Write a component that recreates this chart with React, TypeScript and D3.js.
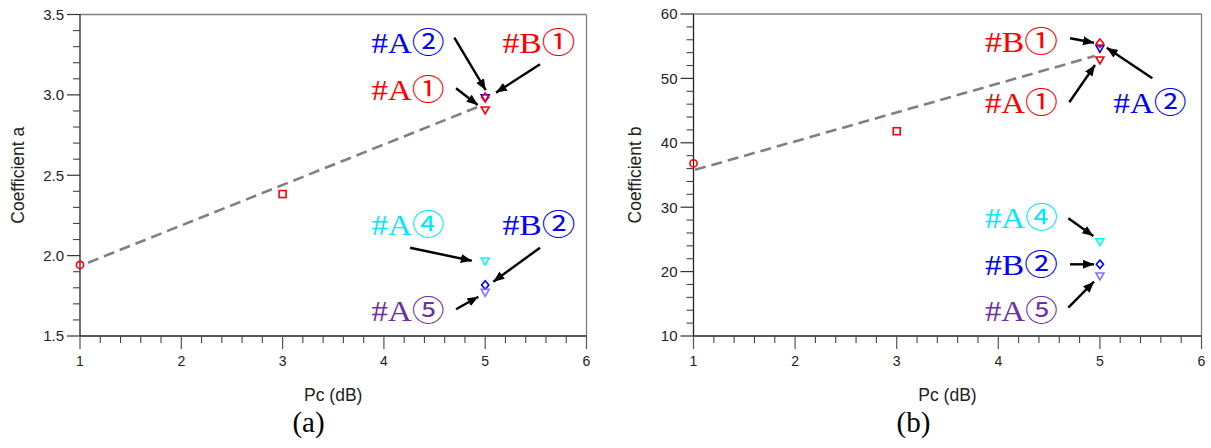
import React from 'react';
import * as d3 from 'd3';

// ---- data ----
const xTicks = [1, 2, 3, 4, 5, 6];
const aTicks = [1.5, 2.0, 2.5, 3.0, 3.5];
const bTicks = [10, 20, 30, 40, 50, 60];

const pointNames = ['P1', 'P3', 'A1', 'A2', 'B1', 'A4', 'B2', 'A5'];
const pcValues = [1, 3, 5, 5, 5, 5, 5, 5];
const coefA = [1.942, 2.383, 2.906, 2.982, 2.985, 1.967, 1.817, 1.772];
const coefB = [36.8, 41.8, 52.86, 54.67, 55.45, 24.64, 21.13, 19.32];
const markerShapes = ['circle', 'square', 'tri', 'tri', 'diamond', 'tri', 'diamond', 'tri'];
const markerColors = ['#ff0000', '#ff0000', '#ff0000', '#0000ff', '#ff0000', '#00ffff', '#0000ff', '#8a70ff'];

const fitAx = [1.08, 4.92];
const fitAy = [1.956, 2.923];
const fitBx = [1.015, 4.95];
const fitBy = [35.8, 53.48];

// annotations (data coordinates)
const annALabels = ['#A②', '#B①', '#A①', '#A④', '#B②', '#A⑤'];
const annAColors = ['#0000ff', '#ff0000', '#ff0000', '#00e8ff', '#0000ff', '#7030a0'];
const annALabelX = [4.238, 5.531, 4.238, 4.238, 5.531, 4.238];
const annALabelY = [3.26, 3.26, 2.968, 2.128, 2.128, 1.593];
const annATailX = [4.695, 5.541, 4.712, 4.258, 5.541, 4.712];
const annATailY = [3.356, 3.19, 3.041, 2.049, 2.049, 1.666];
const annATipX = [5.005, 5.107, 4.926, 4.867, 5.08, 4.932];
const annATipY = [3.03, 3.014, 2.937, 1.968, 1.838, 1.744];

const annBLabels = ['#B①', '#A①', '#A②', '#A④', '#B②', '#A⑤'];
const annBColors = ['#ff0000', '#ff0000', '#0000ff', '#00e8ff', '#0000ff', '#7030a0'];
const annBLabelX = [4.228, 4.228, 5.493, 4.228, 4.228, 4.228];
const annBLabelY = [54.1, 44.63, 44.63, 26.77, 19.47, 12.33];
const annBTailX = [4.706, 4.699, 5.516, 4.689, 4.706, 4.689];
const annBTailY = [56.23, 46.29, 50.02, 28.28, 21.13, 14.4];
const annBTipX = [4.942, 4.952, 5.067, 4.935, 4.942, 4.942];
const annBTipY = [55.54, 52.08, 54.77, 25.53, 21.13, 18.43];

const SANS = '"Liberation Sans", Arial, sans-serif';
const SERIF = '"Liberation Serif", "DejaVu Serif", "Noto Sans CJK JP", serif';

function Marker({ shape, x, y, color }: { shape: string; x: number; y: number; color: string }) {
  const sw = 1.6;
  if (shape === 'circle') return <circle cx={x} cy={y} r={3.6} fill="none" stroke={color} strokeWidth={sw} />;
  if (shape === 'square') return <rect x={x - 3.5} y={y - 3.5} width={7} height={7} fill="none" stroke={color} strokeWidth={sw} />;
  if (shape === 'diamond')
    return <path d={`M${x},${y - 4.2}L${x + 3.6},${y}L${x},${y + 4.2}L${x - 3.6},${y}Z`} fill="none" stroke={color} strokeWidth={sw} />;
  return <path d={`M${x - 4},${y - 3}L${x + 4},${y - 3}L${x},${y + 4}Z`} fill="none" stroke={color} strokeWidth={sw} />;
}

function Panel(props: {
  x0: number; x1: number; y0: number; y1: number;
  yDomain: [number, number]; yTicks: number[]; yMinorStep: number; yFmt: (v: number) => string;
  values: number[]; fitX: number[]; fitY: number[];
  labels: string[]; colors: string[]; lx: number[]; ly: number[]; tx: number[]; ty: number[]; px: number[]; py: number[];
  yTitle: string; yTitleX: number; sub: string; subX: number; id: string;
}) {
  const { x0, x1, y0, y1 } = props;
  const x = d3.scaleLinear().domain([1, 6]).range([x0, x1]);
  const y = d3.scaleLinear().domain(props.yDomain).range([y1, y0]);
  const xMinor = d3.range(1, 6.0001, 0.2).map((v) => +v.toFixed(2)).filter((v) => !xTicks.includes(v));
  const [ya, yb] = props.yDomain;
  const yMinor = d3.range(ya, yb + 1e-6, props.yMinorStep).map((v) => +v.toFixed(3)).filter((v) => !props.yTicks.some((t) => Math.abs(t - v) < 1e-6));
  const fitLine = d3.line<number>().x((_, i) => x(props.fitX[i])).y((d) => y(d));
  const axisColor = '#222';
  const order = [0, 1, 2, 3, 4, 5, 6, 7];
  return (
    <g>
      <defs>
        <marker id={`ah${props.id}`} markerUnits="userSpaceOnUse" markerWidth={12} markerHeight={10} refX={11} refY={4.5} orient="auto">
          <path d="M0,0L11,4.5L0,9Z" fill="#000" />
        </marker>
      </defs>
      {/* frame */}
      <line x1={x0} x2={x1} y1={y0} y2={y0} stroke="#808080" strokeWidth={1.3} />
      <line x1={x1} x2={x1} y1={y0} y2={y1} stroke="#808080" strokeWidth={1.3} />
      <line x1={x0} x2={x0} y1={y0} y2={y1} stroke={axisColor} strokeWidth={1.3} />
      <line x1={x0} x2={x1} y1={y1} y2={y1} stroke={axisColor} strokeWidth={1.3} />
      {/* y ticks */}
      {props.yTicks.map((t) => (
        <g key={`yt${t}`}>
          <line x1={x0 - 13} x2={x0} y1={y(t)} y2={y(t)} stroke="#333" strokeWidth={1.2} />
          <text x={x0 - 16} y={y(t)} dy="0.36em" textAnchor="end" fontFamily={SANS} fontSize={15} fill="#222">
            {props.yFmt(t)}
          </text>
        </g>
      ))}
      {yMinor.map((t) => (
        <line key={`ym${t}`} x1={x0 - 7} x2={x0} y1={y(t)} y2={y(t)} stroke="#444" strokeWidth={1.1} />
      ))}
      {/* x ticks */}
      {xTicks.map((t) => (
        <g key={`xt${t}`}>
          <line x1={x(t)} x2={x(t)} y1={y1} y2={y1 + 13} stroke="#555" strokeWidth={1.2} />
          <text x={x(t)} y={y1 + 30} textAnchor="middle" fontFamily={SANS} fontSize={14} fill="#222">
            {t}
          </text>
        </g>
      ))}
      {xMinor.map((t) => (
        <line key={`xm${t}`} x1={x(t)} x2={x(t)} y1={y1} y2={y1 + 7} stroke="#444" strokeWidth={1.1} />
      ))}
      {/* titles */}
      <text transform={`translate(${props.yTitleX},${(y0 + y1) / 2}) rotate(-90)`} textAnchor="middle" dy="0.36em" fontFamily={SANS} fontSize={17.5} fill="#222">
        {props.yTitle}
      </text>
      <text x={(x0 + x1) / 2} y={401} textAnchor="middle" fontFamily={SANS} fontSize={17.5} fill="#222">
        Pc (dB)
      </text>
      <text x={props.subX} y={432} textAnchor="middle" fontFamily={SERIF} fontSize={29} fill="#000">
        {props.sub}
      </text>
      {/* fit line */}
      <path d={fitLine(props.fitY) || ''} fill="none" stroke="#808080" strokeWidth={2.6} strokeDasharray="11 6" />
      {/* markers */}
      {order.map((i) => (
        <Marker key={pointNames[i]} shape={markerShapes[i]} x={x(pcValues[i])} y={y(props.values[i])} color={markerColors[i]} />
      ))}
      {/* annotations */}
      {props.labels.map((lab, i) => (
        <g key={`an${i}`}>
          <text x={x(props.lx[i])} y={y(props.ly[i])} textAnchor="middle" fontFamily={SERIF} fontSize={29} fill={props.colors[i]} textLength={73} lengthAdjust="spacingAndGlyphs">
            {lab}
          </text>
          <line x1={x(props.tx[i])} y1={y(props.ty[i])} x2={x(props.px[i])} y2={y(props.py[i])} stroke="#000" strokeWidth={2.4} markerEnd={`url(#ah${props.id})`} />
        </g>
      ))}
    </g>
  );
}

export default function App() {
  return (
    <div style={{ position: 'absolute', left: 0, top: 0 }}>
      <svg width={1211} height={448} style={{ display: 'block', background: '#fff' }}>
        <Panel
          id="a" x0={80} x1={586.5} y0={14.5} y1={336}
          yDomain={[1.5, 3.5]} yTicks={aTicks} yMinorStep={0.1} yFmt={(v) => v.toFixed(1)}
          values={coefA} fitX={fitAx} fitY={fitAy}
          labels={annALabels} colors={annAColors} lx={annALabelX} ly={annALabelY}
          tx={annATailX} ty={annATailY} px={annATipX} py={annATipY}
          yTitle="Coefficient a" yTitleX={18} sub="(a)" subX={308.5}
        />
        <Panel
          id="b" x0={693.5} x1={1201.5} y0={14} y1={336}
          yDomain={[10, 60]} yTicks={bTicks} yMinorStep={2} yFmt={(v) => String(v)}
          values={coefB} fitX={fitBx} fitY={fitBy}
          labels={annBLabels} colors={annBColors} lx={annBLabelX} ly={annBLabelY}
          tx={annBTailX} ty={annBTailY} px={annBTipX} py={annBTipY}
          yTitle="Coefficient b" yTitleX={634.5} sub="(b)" subX={913.5}
        />
      </svg>
    </div>
  );
}
